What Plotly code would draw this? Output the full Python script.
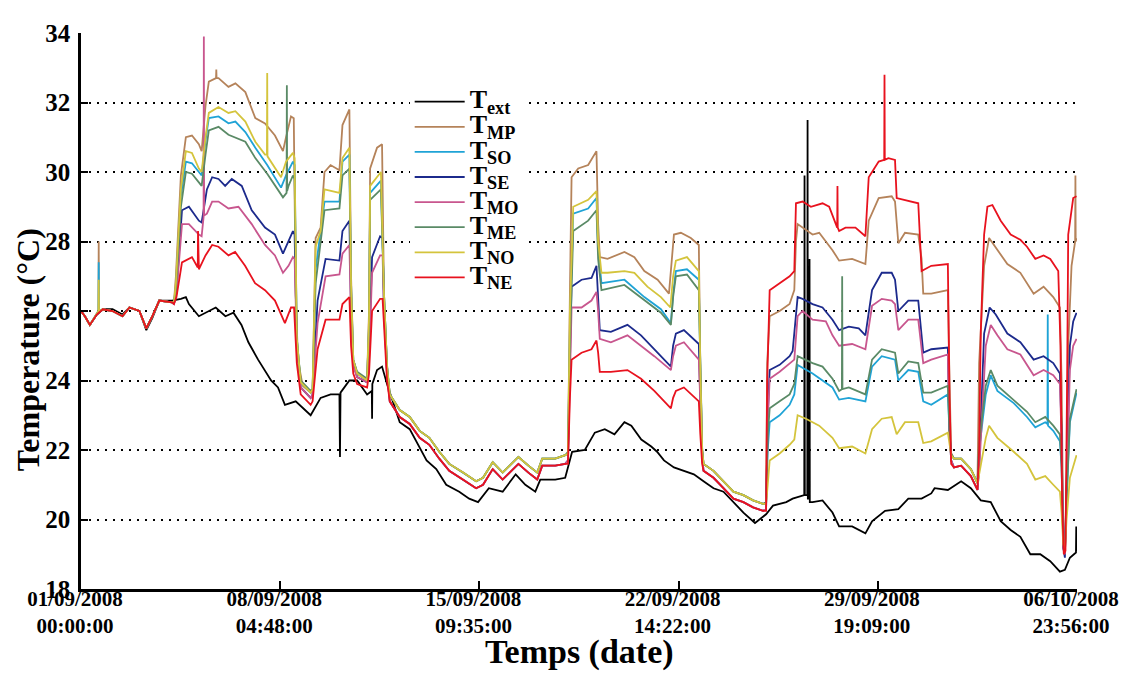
import pandas as pd
import plotly.graph_objects as go

# ---------------- axis / tick data ----------------
tick_dates = ["2008-09-01 00:00:00", "2008-09-08 04:48:00", "2008-09-15 09:35:00",
              "2008-09-22 14:22:00", "2008-09-29 19:09:00", "2008-10-06 23:56:00"]
tick_date_text = ["01/09/2008", "08/09/2008", "15/09/2008", "22/09/2008", "29/09/2008", "06/10/2008"]
tick_time_text = ["00:00:00", "04:48:00", "09:35:00", "14:22:00", "19:09:00", "23:56:00"]
y_ticks = [18, 20, 22, 24, 26, 28, 30, 32, 34]

series_names = ["ext", "MP", "SO", "SE", "MO", "ME", "NO", "NE"]
series_colors = ["#000000", "#b5835a", "#1fa3d6", "#1c2a8c", "#c8568e", "#5a8a66", "#d4c43c", "#e8121e"]

# ---------------- readings: (days since 01/09/2008 00:00, °C) ----------------
ext = [(0.00, 26.0), (0.14, 25.85), (0.32, 25.6), (0.57, 25.9), (0.79, 26.05), (1.14, 26.05), (1.50, 25.9),
       (1.75, 26.1), (2.11, 26.0), (2.36, 25.45), (2.58, 25.8), (2.83, 26.3), (3.29, 26.3), (3.61, 26.35),
       (3.79, 26.4), (3.90, 26.2), (4.26, 25.85), (4.62, 26.0), (4.87, 26.1), (5.22, 25.85), (5.51, 25.95),
       (5.80, 25.6), (6.05, 25.1), (6.40, 24.6), (6.87, 24.0), (7.12, 23.8), (7.37, 23.3), (7.76, 23.4),
       (8.30, 23.0), (8.66, 23.5), (9.02, 23.6), (9.34, 23.6), (9.36, 21.8), (9.38, 23.65), (9.70, 24.0),
       (9.98, 24.0), (10.34, 23.6), (10.51, 23.7), (10.52, 22.9), (10.53, 23.9), (10.70, 24.3), (10.88, 24.4),
       (11.06, 23.9), (11.31, 23.3), (11.52, 22.8), (11.88, 22.6), (12.24, 22.05), (12.49, 21.7), (12.84, 21.45),
       (13.20, 21.0), (13.67, 20.8), (14.03, 20.6), (14.35, 20.5), (14.74, 20.9), (15.24, 20.8), (15.71, 21.3),
       (16.06, 21.0), (16.42, 20.8), (16.60, 21.15), (17.14, 21.15), (17.50, 21.2), (17.75, 21.95), (18.21, 22.0),
       (18.57, 22.5), (18.93, 22.6), (19.28, 22.45), (19.64, 22.8), (19.89, 22.7), (20.25, 22.3), (20.61, 22.1),
       (20.82, 21.95), (21.07, 21.7), (21.43, 21.5), (21.79, 21.4), (22.15, 21.3), (22.50, 21.1), (22.86, 20.9),
       (23.22, 20.8), (23.58, 20.5), (23.94, 20.2), (24.36, 19.9), (24.76, 20.15), (25.01, 20.4), (25.49, 20.5),
       (25.72, 20.6), (26.08, 20.7), (26.14, 20.7), (26.15, 29.9), (26.16, 20.7), (26.25, 20.7), (26.26, 31.5),
       (26.27, 20.6), (26.32, 20.6), (26.33, 27.5), (26.34, 20.5), (26.44, 20.5), (26.80, 20.55), (27.16, 20.2),
       (27.40, 19.8), (27.87, 19.8), (28.35, 19.6), (28.59, 19.95), (29.06, 20.25), (29.54, 20.3), (29.90, 20.6),
       (30.38, 20.6), (30.73, 20.75), (30.85, 20.9), (31.33, 20.85), (31.81, 21.1), (32.16, 20.9), (32.52, 20.55),
       (32.88, 20.5), (33.24, 19.95), (33.60, 19.7), (33.95, 19.5), (34.31, 19.0), (34.67, 19.0), (35.03, 18.8),
       (35.38, 18.5), (35.56, 18.55), (35.74, 18.9), (35.96, 19.05), (35.97, 19.8), (35.98, 19.1)]

# indoor sensors share these unheated stretches
early_common = [(0.00, 26.0), (0.14, 25.85), (0.32, 25.6), (0.57, 25.9), (0.79, 26.05), (1.14, 26.0),
                (1.50, 25.85), (1.75, 26.1), (2.11, 26.0), (2.36, 25.5), (2.58, 25.85), (2.83, 26.3), (3.29, 26.25)]
cool_c_upper = [(11.16, 23.6), (11.52, 23.15), (11.88, 22.95), (12.24, 22.55), (12.59, 22.35), (12.95, 21.95),
                (13.31, 21.6), (13.81, 21.35), (14.28, 21.1), (14.53, 21.2), (14.88, 21.65), (15.24, 21.35),
                (15.81, 21.8), (16.17, 21.55), (16.49, 21.35), (16.67, 21.75), (17.14, 21.75), (17.50, 21.85)]
cool_c_lower = [(11.16, 23.4), (11.52, 22.95), (11.88, 22.75), (12.24, 22.35), (12.59, 22.15), (12.95, 21.75),
                (13.31, 21.4), (13.81, 21.15), (14.28, 20.9), (14.53, 21.0), (14.88, 21.45), (15.24, 21.15),
                (15.81, 21.6), (16.17, 21.35), (16.49, 21.15), (16.67, 21.55), (17.14, 21.55), (17.50, 21.6)]
cool_e_upper = [(22.50, 21.6), (22.86, 21.4), (23.22, 21.1), (23.58, 20.8), (23.94, 20.7), (24.29, 20.55), (24.65, 20.45)]
cool_e_lower = [(22.50, 21.4), (22.86, 21.2), (23.22, 20.9), (23.58, 20.6), (23.94, 20.5), (24.29, 20.35), (24.65, 20.25)]
cool_g_upper = [(31.55, 21.75), (31.81, 21.75), (32.16, 21.45), (32.40, 21.05)]
cool_g_lower = [(31.55, 21.5), (31.81, 21.55), (32.16, 21.25), (32.40, 20.85)]

mp_heated = [(3.36, 26.25), (3.43, 27.0), (3.61, 29.9), (3.79, 31.0), (4.01, 31.05), (4.26, 30.8), (4.36, 30.6),
             (4.50, 31.9), (4.62, 32.6), (4.97, 32.7), (5.33, 32.45), (5.58, 32.55), (5.94, 32.3), (6.30, 31.55),
             (6.65, 31.4), (7.01, 31.05), (7.30, 30.6), (7.41, 31.0), (7.59, 31.6), (7.69, 31.55), (7.76, 26.5),
             (7.84, 24.6), (8.01, 23.85), (8.30, 23.65),
             (8.37, 23.7), (8.48, 28.1), (8.66, 28.4), (8.80, 30.0), (9.02, 30.2), (9.34, 30.05), (9.45, 31.35),
             (9.70, 31.8), (9.76, 27.0), (9.84, 24.6), (9.98, 24.2), (10.34, 24.0),
             (10.41, 26.0), (10.45, 30.1), (10.70, 30.7), (10.88, 30.8), (10.95, 26.5), (11.06, 24.4),
             (17.60, 21.9), (17.67, 26.5), (17.73, 29.85), (17.97, 30.1), (18.33, 30.2), (18.63, 30.6), (18.69, 28.5),
             (18.75, 27.55), (19.03, 27.5), (19.64, 27.7), (20.00, 27.55), (20.36, 27.15), (20.84, 26.9), (21.25, 26.5),
             (21.35, 27.6), (21.43, 28.2), (21.68, 28.25), (22.04, 28.1), (22.33, 27.9), (22.38, 24.5), (22.45, 22.0),
             (24.76, 20.45), (24.80, 24.5), (24.89, 25.85), (25.25, 26.0), (25.61, 26.2), (25.78, 26.6), (25.84, 28.0),
             (25.90, 28.5), (26.08, 28.4), (26.44, 28.2), (26.68, 28.25), (27.16, 27.75), (27.40, 27.45), (27.87, 27.5),
             (28.35, 27.35), (28.47, 28.6), (28.83, 29.25), (29.30, 29.3), (29.42, 29.15), (29.54, 27.95), (29.78, 28.25),
             (30.26, 28.2), (30.38, 27.5), (30.44, 26.5), (30.73, 26.5), (31.33, 26.6), (31.39, 24.0), (31.45, 21.9),
             (32.46, 24.5), (32.64, 27.3), (32.82, 28.1), (33.00, 27.9), (33.48, 27.35), (33.95, 27.1), (34.43, 26.5),
             (34.79, 26.7), (35.14, 26.4), (35.38, 26.1), (35.44, 24.0), (35.50, 19.5), (35.56, 19.2), (35.62, 21.0),
             (35.68, 25.0), (35.80, 27.3), (35.98, 28.1)]
mp_spikes = [(0.63, 26.0), (0.64, 28.0), (0.65, 26.0), (4.88, 32.7), (4.89, 32.95), (4.90, 32.7),
             (35.93, 28.0), (35.94, 29.9), (35.95, 28.0)]

so_heated = [(3.36, 26.25), (3.43, 26.7), (3.61, 29.3), (3.79, 30.3), (4.01, 30.25), (4.26, 30.0), (4.36, 29.9),
             (4.50, 30.9), (4.62, 31.55), (4.97, 31.6), (5.33, 31.4), (5.58, 31.45), (5.94, 31.15), (6.30, 30.7),
             (6.73, 30.2), (7.23, 29.55), (7.41, 29.9), (7.66, 30.3), (7.72, 30.2), (7.80, 25.2), (7.94, 23.95),
             (8.30, 23.65),
             (8.37, 23.75), (8.48, 27.2), (8.80, 29.15), (9.34, 29.15), (9.45, 30.3), (9.70, 30.5), (9.76, 26.8),
             (9.84, 24.6), (9.98, 24.2), (10.34, 24.0),
             (10.41, 25.6), (10.45, 29.4), (10.84, 29.75), (10.95, 26.5), (11.06, 24.4),
             (17.60, 21.9), (17.67, 25.5), (17.79, 28.8), (18.33, 28.95), (18.63, 29.25), (18.69, 27.8), (18.81, 26.8),
             (19.64, 26.9), (20.36, 26.4), (20.96, 26.05), (21.32, 25.65), (21.40, 26.5), (21.50, 27.15), (21.90, 27.2),
             (22.33, 26.9), (22.38, 24.5), (22.45, 22.0),
             (24.76, 20.45), (24.82, 22.0), (24.89, 22.8), (25.25, 23.0), (25.61, 23.3), (25.78, 23.6), (25.90, 24.45),
             (26.44, 24.2), (27.16, 23.8), (27.40, 23.45), (27.75, 23.5), (28.35, 23.4), (28.59, 24.4), (28.94, 24.7),
             (29.42, 24.6), (29.54, 24.0), (29.90, 24.3), (30.26, 24.25), (30.44, 23.4), (30.73, 23.3), (31.33, 23.6),
             (31.39, 22.5), (31.45, 21.85),
             (32.46, 22.0), (32.70, 23.6), (32.88, 24.15), (33.12, 23.7), (33.71, 23.35), (34.19, 22.95), (34.49, 22.65),
             (34.85, 22.8), (35.14, 22.55), (35.38, 22.25), (35.44, 21.5), (35.50, 19.2), (35.56, 19.0), (35.62, 20.5),
             (35.74, 22.8), (35.98, 23.65)]
so_spikes = [(0.63, 26.0), (0.64, 27.4), (0.65, 26.0), (34.93, 22.75), (34.94, 25.9), (34.95, 22.7)]

se_heated = [(3.36, 26.2), (3.45, 26.6), (3.65, 28.9), (3.90, 29.0), (4.26, 28.6), (4.36, 28.55), (4.55, 29.5),
             (4.74, 29.85), (4.97, 29.8), (5.21, 29.6), (5.45, 29.8), (5.81, 29.6), (6.17, 28.9), (6.65, 28.4),
             (7.01, 28.2), (7.30, 27.65), (7.50, 28.0), (7.66, 28.3), (7.72, 28.2), (7.80, 25.0), (7.94, 23.8),
             (8.30, 23.5),
             (8.37, 23.6), (8.55, 26.3), (8.84, 27.5), (9.34, 27.45), (9.45, 28.3), (9.70, 28.6), (9.76, 26.0),
             (9.84, 24.5), (9.98, 24.1), (10.34, 23.95),
             (10.41, 24.8), (10.52, 27.55), (10.81, 28.15), (10.90, 28.1), (10.95, 26.0), (11.06, 24.2),
             (17.60, 21.7), (17.67, 24.5), (17.73, 26.7), (18.09, 26.9), (18.45, 26.95), (18.63, 27.3), (18.69, 26.5),
             (18.75, 25.45), (19.15, 25.4), (19.75, 25.6), (20.24, 25.3), (20.72, 24.9), (21.32, 24.4), (21.40, 25.0),
             (21.50, 25.35), (21.79, 25.45), (22.33, 25.05), (22.38, 23.5), (22.45, 21.8),
             (24.76, 20.3), (24.82, 23.0), (24.89, 24.3), (25.25, 24.45), (25.61, 24.7), (25.72, 24.85), (25.90, 26.4),
             (26.08, 26.35), (26.44, 26.2), (26.80, 26.1), (27.16, 25.75), (27.40, 25.45), (27.75, 25.55), (28.11, 25.5),
             (28.35, 25.3), (28.59, 26.6), (28.94, 27.1), (29.30, 27.1), (29.42, 26.9), (29.54, 26.0), (29.90, 26.3),
             (30.26, 26.3), (30.44, 24.8), (30.73, 24.9), (31.33, 24.95), (31.39, 22.5), (31.45, 21.7),
             (32.46, 21.5), (32.64, 25.35), (32.84, 26.1), (33.06, 25.9), (33.48, 25.35), (33.95, 25.1), (34.43, 24.6),
             (34.79, 24.7), (35.14, 24.5), (35.38, 24.2), (35.44, 22.5), (35.50, 19.2), (35.56, 18.9), (35.62, 21.0),
             (35.74, 25.0), (35.86, 25.7), (35.98, 25.95)]
se_spikes = []

mo_heated = [(3.36, 26.2), (3.45, 26.5), (3.65, 28.5), (3.90, 28.5), (4.26, 28.2), (4.36, 28.15), (4.55, 28.8),
             (4.74, 29.15), (4.97, 29.15), (5.33, 28.95), (5.69, 29.0), (6.17, 28.5), (6.65, 27.9), (7.01, 27.6),
             (7.30, 27.1), (7.50, 27.3), (7.66, 27.55), (7.72, 27.5), (7.80, 25.0), (7.94, 23.8), (8.30, 23.5),
             (8.37, 23.6), (8.55, 25.65), (8.84, 27.0), (9.34, 27.05), (9.45, 27.65), (9.70, 27.9), (9.76, 25.8),
             (9.84, 24.4), (9.98, 24.1), (10.34, 23.95),
             (10.41, 24.6), (10.52, 27.1), (10.81, 27.6), (10.90, 27.6), (10.95, 26.0), (11.06, 24.2),
             (17.60, 21.7), (17.67, 24.0), (17.73, 26.1), (18.09, 26.1), (18.45, 26.3), (18.63, 26.55), (18.69, 26.0),
             (18.75, 25.2), (19.15, 25.1), (19.75, 25.3), (20.24, 25.0), (20.72, 24.7), (21.32, 24.3), (21.40, 24.7),
             (21.50, 25.0), (21.79, 25.1), (22.33, 24.6), (22.38, 23.3), (22.45, 21.8),
             (24.76, 20.3), (24.82, 22.8), (24.89, 24.05), (25.25, 24.25), (25.61, 24.5), (25.78, 24.6), (25.90, 25.85),
             (26.08, 26.0), (26.44, 25.75), (26.92, 25.7), (27.16, 25.3), (27.40, 25.0), (27.87, 25.05), (28.35, 24.9),
             (28.59, 26.15), (28.94, 26.35), (29.30, 26.3), (29.42, 26.2), (29.54, 25.45), (29.90, 25.75), (30.26, 25.75),
             (30.44, 24.5), (30.73, 24.6), (31.33, 24.75), (31.39, 22.5), (31.45, 21.7),
             (32.46, 21.4), (32.70, 25.0), (32.88, 25.6), (33.12, 25.3), (33.48, 24.9), (33.95, 24.75), (34.43, 24.15),
             (34.79, 24.3), (35.14, 24.15), (35.38, 23.9), (35.44, 22.3), (35.50, 19.2), (35.56, 19.0), (35.62, 20.8),
             (35.74, 24.3), (35.86, 25.0), (35.98, 25.2)]
mo_spikes = [(4.43, 28.7), (4.44, 33.9), (4.45, 28.75)]

me_heated = [(3.36, 26.25), (3.43, 26.6), (3.61, 29.0), (3.79, 30.0), (4.01, 29.95), (4.26, 29.7), (4.36, 29.6),
             (4.50, 30.5), (4.62, 31.2), (4.97, 31.3), (5.33, 31.07), (5.94, 30.87), (6.30, 30.4), (6.73, 29.95),
             (7.30, 29.27), (7.50, 29.6), (7.66, 29.9), (7.72, 29.8), (7.80, 25.2), (7.94, 24.0), (8.30, 23.7),
             (8.37, 23.75), (8.48, 26.8), (8.80, 28.9), (9.34, 28.95), (9.45, 29.9), (9.70, 30.1), (9.76, 26.6),
             (9.84, 24.6), (9.98, 24.25), (10.34, 24.05),
             (10.41, 25.5), (10.45, 29.2), (10.84, 29.5), (10.95, 26.5), (11.06, 24.45),
             (17.60, 21.95), (17.67, 25.0), (17.79, 28.3), (18.33, 28.6), (18.63, 28.9), (18.69, 27.5), (18.81, 26.6),
             (19.64, 26.75), (20.36, 26.3), (20.96, 25.95), (21.32, 25.6), (21.40, 26.4), (21.50, 27.0), (21.90, 27.05),
             (22.33, 26.6), (22.38, 24.5), (22.45, 22.05),
             (24.76, 20.5), (24.82, 22.4), (24.89, 23.2), (25.25, 23.4), (25.61, 23.6), (25.78, 23.9), (25.90, 24.7),
             (26.44, 24.5), (26.80, 24.4), (27.16, 24.05), (27.40, 23.7), (27.75, 23.8), (28.35, 23.6), (28.59, 24.6),
             (28.94, 24.9), (29.42, 24.8), (29.54, 24.2), (29.90, 24.55), (30.26, 24.5), (30.44, 23.65), (30.73, 23.65),
             (31.33, 23.85), (31.39, 22.5), (31.45, 21.9),
             (32.46, 22.2), (32.70, 23.85), (32.88, 24.3), (33.12, 23.85), (33.71, 23.45), (34.19, 23.1), (34.49, 22.8),
             (34.85, 22.95), (35.14, 22.7), (35.38, 22.45), (35.44, 21.6), (35.50, 19.3), (35.56, 19.1), (35.62, 20.6),
             (35.74, 22.9), (35.98, 23.75)]
me_spikes = [(7.43, 29.4), (7.44, 32.5), (7.45, 29.45), (27.50, 23.75), (27.51, 27.0), (27.52, 23.75)]

no_heated = [(3.36, 26.25), (3.43, 26.8), (3.61, 29.5), (3.79, 30.6), (4.01, 30.55), (4.26, 30.1), (4.36, 30.0),
             (4.50, 31.0), (4.62, 31.7), (4.97, 31.87), (5.33, 31.7), (5.58, 31.75), (5.94, 31.45), (6.30, 30.87),
             (6.65, 30.5), (7.23, 29.85), (7.41, 30.3), (7.66, 30.55), (7.72, 30.4), (7.80, 25.2), (7.94, 23.95),
             (8.30, 23.65),
             (8.37, 23.75), (8.48, 27.85), (8.66, 28.3), (8.80, 29.5), (9.34, 29.4), (9.45, 30.4), (9.70, 30.7),
             (9.76, 26.8), (9.84, 24.6), (9.98, 24.2), (10.34, 24.0),
             (10.41, 25.8), (10.45, 29.6), (10.84, 30.0), (10.95, 26.5), (11.06, 24.4),
             (17.60, 21.9), (17.67, 26.0), (17.79, 29.0), (18.33, 29.2), (18.63, 29.45), (18.69, 28.0), (18.81, 27.1),
             (19.03, 27.1), (19.64, 27.15), (20.00, 27.1), (20.47, 26.7), (20.96, 26.4), (21.30, 26.1), (21.40, 27.0),
             (21.50, 27.45), (21.90, 27.55), (22.33, 27.15), (22.38, 24.5), (22.45, 22.0),
             (24.76, 20.45), (24.82, 21.0), (24.89, 21.7), (25.25, 21.9), (25.61, 22.15), (25.78, 22.3), (25.90, 23.0),
             (26.20, 22.9), (26.68, 22.7), (27.16, 22.35), (27.40, 22.05), (27.87, 22.1), (28.35, 21.9), (28.59, 22.6),
             (28.94, 22.9), (29.30, 22.95), (29.48, 22.45), (29.78, 22.8), (30.26, 22.8), (30.44, 22.2), (30.73, 22.25),
             (31.33, 22.5), (31.39, 22.1), (31.45, 21.85),
             (32.46, 21.3), (32.70, 22.35), (32.82, 22.7), (33.12, 22.35), (33.71, 21.95), (34.19, 21.6), (34.49, 21.15),
             (34.85, 21.25), (35.14, 21.0), (35.38, 20.8), (35.44, 20.2), (35.50, 19.3), (35.56, 19.1), (35.62, 20.0),
             (35.74, 21.2), (35.98, 21.85)]
no_spikes = [(0.63, 26.0), (0.64, 26.9), (0.65, 26.0), (6.72, 30.5), (6.73, 32.85), (6.74, 30.45)]

ne_heated = [(3.36, 26.2), (3.45, 26.4), (3.65, 27.4), (4.01, 27.55), (4.26, 27.2), (4.50, 27.6), (4.74, 27.9),
             (4.97, 27.85), (5.33, 27.6), (5.57, 27.7), (5.93, 27.3), (6.29, 26.8), (6.65, 26.6), (7.01, 26.3),
             (7.37, 25.65), (7.59, 26.1), (7.70, 26.1), (7.80, 24.5), (7.94, 23.6), (8.30, 23.3),
             (8.37, 23.4), (8.55, 24.9), (8.84, 25.75), (9.34, 25.75), (9.45, 26.2), (9.70, 26.4), (9.76, 25.0),
             (9.84, 24.2), (9.98, 23.9), (10.34, 23.8),
             (10.41, 24.2), (10.52, 26.0), (10.81, 26.35), (10.90, 26.35), (10.95, 25.5), (11.06, 24.0),
             (17.60, 21.6), (17.67, 23.5), (17.73, 24.6), (18.09, 24.8), (18.45, 24.9), (18.63, 25.15), (18.69, 24.8),
             (18.75, 24.25), (19.15, 24.25), (19.75, 24.3), (20.24, 24.05), (20.72, 23.7), (21.32, 23.2), (21.40, 23.5),
             (21.50, 23.7), (21.79, 23.8), (22.33, 23.4), (22.38, 22.5), (22.45, 21.6),
             (24.76, 20.25), (24.80, 24.0), (24.89, 26.6), (25.25, 26.8), (25.61, 27.0), (25.78, 27.15), (25.84, 29.1),
             (26.08, 29.15), (26.38, 29.0), (26.80, 29.1), (27.04, 29.0), (27.40, 28.3), (27.63, 28.4), (27.99, 28.4),
             (28.35, 28.15), (28.47, 29.85), (28.83, 30.3), (29.18, 30.4), (29.42, 30.35), (29.48, 29.25), (29.78, 29.2),
             (30.26, 29.1), (30.38, 27.15), (30.73, 27.3), (31.33, 27.35), (31.39, 23.5), (31.45, 21.6),
             (32.46, 22.0), (32.52, 25.4), (32.64, 28.2), (32.76, 29.0), (32.94, 29.05), (33.24, 28.6), (33.60, 28.2),
             (33.95, 28.05), (34.19, 27.85), (34.49, 27.5), (34.79, 27.6), (35.03, 27.5), (35.32, 27.15), (35.40, 25.0),
             (35.46, 20.5), (35.52, 19.0), (35.58, 19.1), (35.64, 24.0), (35.68, 28.2), (35.86, 29.25), (35.98, 29.3)]
ne_spikes = [(4.22, 27.25), (4.23, 28.3), (4.24, 27.2), (27.33, 28.4), (27.34, 29.6), (27.35, 28.4),
             (29.03, 30.35), (29.04, 32.8), (29.05, 30.35)]

# ---------------- assemble series ----------------
upper = cool_c_upper + cool_e_upper + cool_g_upper
lower = cool_c_lower + cool_e_lower + cool_g_lower
series_points = [
    ext,
    sorted(early_common + mp_heated + upper + mp_spikes),
    sorted(early_common + so_heated + upper + so_spikes),
    sorted(early_common + se_heated + lower + se_spikes),
    sorted(early_common + mo_heated + lower + mo_spikes),
    sorted(early_common + me_heated + upper + me_spikes),
    sorted(early_common + no_heated + upper + no_spikes),
    sorted(early_common + ne_heated + lower + ne_spikes),
]

start = pd.Timestamp(tick_dates[0])
font_family = "Liberation Serif, Times New Roman, serif"

fig = go.Figure()
for name, color, pts in zip(series_names, series_colors, series_points):
    days = [p[0] for p in pts]
    vals = [p[1] for p in pts]
    times = start + pd.to_timedelta(days, unit="D")
    fig.add_trace(go.Scatter(
        x=times, y=vals, mode="lines",
        name='<span style="font-size:26px">T<sub>%s</sub></span>' % name,
        line=dict(color=color, width=1.8),
    ))

# the page body adds an 8px offset; margins compensate so the plot area sits where the reference has it
fig.update_layout(
    width=1123, height=665,
    margin=dict(l=73, r=43, t=19, b=84),
    paper_bgcolor="white", plot_bgcolor="white",
    font=dict(family=font_family, color="black"),
    showlegend=True,
    legend=dict(
        x=0.330, y=0.908, xanchor="left", yanchor="top",
        bgcolor="white", borderwidth=0,
        font=dict(family=font_family, size=17, color="black", weight="bold"),
        itemwidth=50, tracegroupgap=0,
    ),
    xaxis=dict(
        type="date",
        range=[tick_dates[0], tick_dates[-1]],
        tickvals=tick_dates,
        ticktext=["%s<br>%s" % (d, t) for d, t in zip(tick_date_text, tick_time_text)],
        ticks="inside", ticklen=8, tickwidth=2, tickcolor="black",
        showline=True, linewidth=2.5, linecolor="black",
        showgrid=False, zeroline=False,
        ticklabelstandoff=-11, ticklabelshift=-6, ticklabeloverflow="allow",
        tickfont=dict(family=font_family, size=21, color="black", weight="bold"),
    ),
    yaxis=dict(
        range=[18, 34],
        tickvals=y_ticks,
        ticks="inside", ticklen=7, tickwidth=2, tickcolor="black",
        showline=True, linewidth=2.5, linecolor="black",
        showgrid=True, gridcolor="black", gridwidth=1.5, griddash="2px,6px",
        zeroline=False,
        ticklabelstandoff=3,
        tickfont=dict(family=font_family, size=25, color="black", weight="bold"),
    ),
    annotations=[
        dict(text="Temperature (°C)", xref="paper", yref="paper", x=-0.053, y=0.43,
             xanchor="center", yanchor="middle", textangle=-90, showarrow=False,
             font=dict(family=font_family, size=32, color="black", weight="bold")),
        dict(text="Temps (date)", xref="paper", yref="paper", x=0.5, y=-0.114,
             xanchor="center", yanchor="middle", showarrow=False,
             font=dict(family=font_family, size=34, color="black", weight="bold")),
    ],
)

fig.write_html("out.html")
